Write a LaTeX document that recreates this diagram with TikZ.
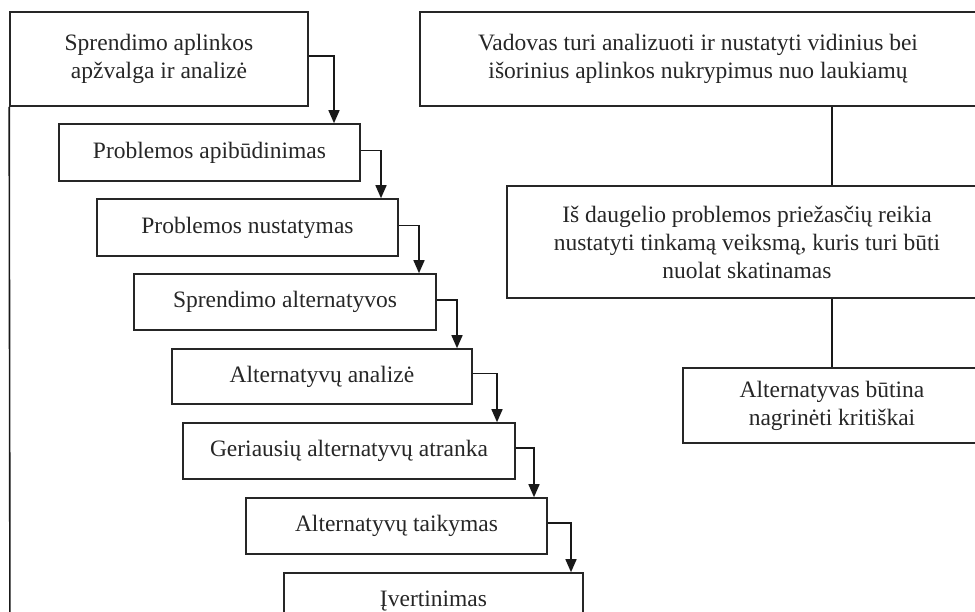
\documentclass[tikz,border=0pt]{standalone}
\usepackage{fontspec}
\setmainfont{Liberation Serif}
\usetikzlibrary{arrows.meta}
\newcommand{\boxfont}{\fontsize{23.5}{28}\selectfont}
\tikzset{
  box/.style={draw=black!85, line width=1.6pt, inner sep=0pt, align=center,
    font=\boxfont, text=black!85},
  flow/.style={draw=black!90, line width=1.5pt, -{Triangle[length=13pt,width=11pt]}},
  link/.style={draw=black!90, line width=1.6pt},
}
\begin{document}
\begin{tikzpicture}[x=1pt,y=-1pt]
  \path[use as bounding box] (0,0) rectangle (975,611);
  \clip (0,0) rectangle (975,611);

  % decision steps (left column)
  \node[box, minimum width=298pt, minimum height=94pt] (b1) at (159,59)
    {Sprendimo aplinkos\\apžvalga ir analizė};
  \node[box, minimum width=301pt, minimum height=57pt] (b2) at (209.5,152.5)
    {Problemos apibūdinimas};
  \node[box, minimum width=301pt, minimum height=57pt] (b3) at (247.5,227.5)
    {Problemos nustatymas};
  \node[box, minimum width=302pt, minimum height=56pt] (b4) at (285,302)
    {Sprendimo alternatyvos};
  \node[box, minimum width=300pt, minimum height=55pt] (b5) at (322,376.5)
    {Alternatyvų analizė};
  \node[box, minimum width=332pt, minimum height=56pt] (b6) at (349,451)
    {Geriausių alternatyvų atranka};
  \node[box, minimum width=301pt, minimum height=56pt] (b7) at (396.5,526)
    {Alternatyvų taikymas};
  \node[box, minimum width=299pt, minimum height=56pt] (b8) at (433.5,601)
    {Įvertinimas};

  % remarks (right column)
  \node[box, minimum width=556pt, minimum height=94pt] (r1) at (698,59)
    {Vadovas turi analizuoti ir nustatyti vidinius bei\\išorinius aplinkos nukrypimus nuo laukiamų};
  \node[box, minimum width=480pt, minimum height=112pt] (r2) at (747,242)
    {Iš daugelio problemos priežasčių reikia\\nustatyti tinkamą veiksmą, kuris turi būti\\nuolat skatinamas};
  \node[box, minimum width=298pt, minimum height=75pt] (r3) at (832,405.5)
    {Alternatyvas būtina\\nagrinėti kritiškai};

  % drop points of the step arrows
  \coordinate (x2) at (334,0);
  \coordinate (x3) at (381,0);
  \coordinate (x4) at (419,0);
  \coordinate (x5) at (457,0);
  \coordinate (x6) at (497,0);
  \coordinate (x7) at (534,0);
  \coordinate (x8) at (571,0);
  \coordinate (frameend) at (10,660);

  % step arrows
  \draw[flow] ([yshift=3pt]b1.east) -| (b2.north west -| x2);
  \draw[flow] ([yshift=2pt]b2.east) -| (b3.north west -| x3);
  \draw[flow] ([yshift=2pt]b3.east) -| (b4.north west -| x4);
  \draw[flow] ([yshift=2pt]b4.east) -| (b5.north west -| x5);
  \draw[flow] ([yshift=3pt]b5.east) -| (b6.north west -| x6);
  \draw[flow] ([yshift=3pt]b6.east) -| (b7.north west -| x7);
  \draw[flow] ([yshift=3pt]b7.east) -| (b8.north west -| x8);

  % outer frame edge
  \draw[link] (b1.south west) -- (frameend);

  % links between remarks
  \draw[link] (r1.south -| r3.north) -- (r2.north -| r3.north);
  \draw[link] (r2.south -| r3.north) -- (r3.north);
\end{tikzpicture}
\end{document}
